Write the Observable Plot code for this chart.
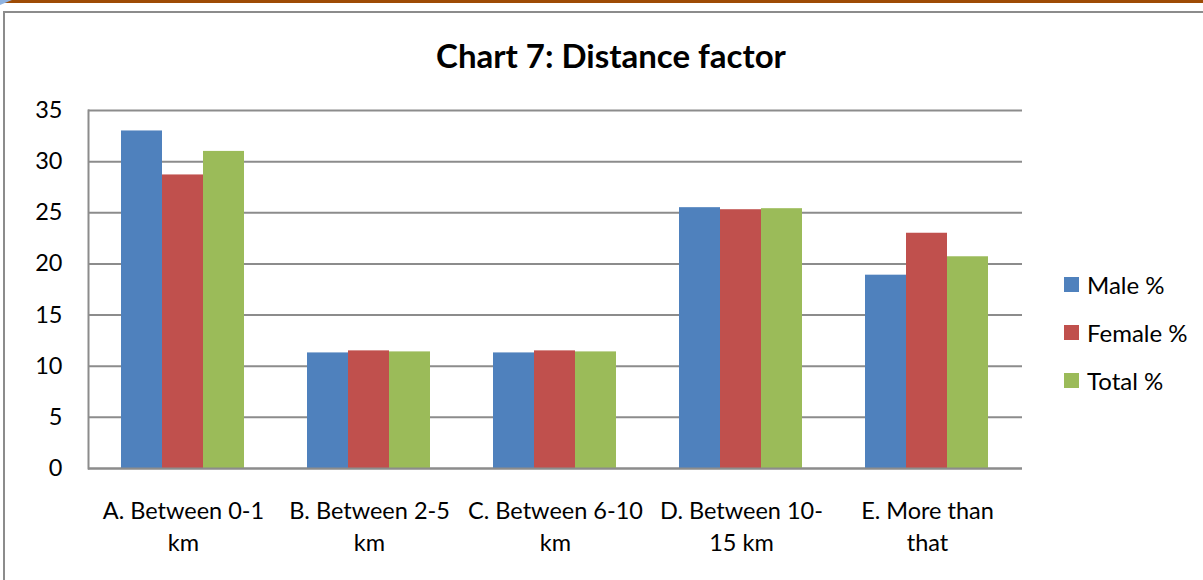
<!DOCTYPE html>
<html><head><meta charset="utf-8">
<script src="https://cdn.jsdelivr.net/npm/d3@7"></script>
<script src="https://cdn.jsdelivr.net/npm/@observablehq/plot@0.6"></script>
<style>
body{margin:0;background:#fff;font-family:Lato,"Open Sans",sans-serif;}
#wrap{position:relative;width:1203px;height:580px;overflow:hidden;background:#fff;}
.topbar{position:absolute;left:0;top:0;width:1203px;height:3px;background:#9E4B05;}
.corner{position:absolute;left:0;top:0;width:0;height:0;border-top:5px solid #8fb3e0;border-right:12px solid transparent;}
.border{position:absolute;left:3px;top:11px;width:1220px;height:600px;border:2px solid #8c8c8c;box-sizing:border-box;}
#title{position:absolute;left:0;top:35px;width:1222px;text-align:center;font-weight:bold;font-size:33px;color:#000;}
.layer{position:absolute;left:0;top:0;}
#legend{position:absolute;left:1064px;top:260px;font-size:24px;color:#000;}
.item{display:flex;align-items:center;height:48px;}
.sw{width:15px;height:15px;margin-right:8px;}
</style></head><body>
<div id="wrap">
 <div class="topbar"></div>
 <div class="corner"></div>
 <div class="border"></div>
 <div id="title">Chart 7: Distance factor</div>
 <div id="back" class="layer"></div>
 <div id="bars" class="layer"></div>
 <div id="legend"></div>
</div>
<script>
const categories = ["A. Between 0-1 km", "B. Between 2-5 km", "C. Between 6-10 km", "D. Between 10-15 km", "E. More than that"];
const categoryLabels = ["A. Between 0-1\nkm", "B. Between 2-5\nkm", "C. Between 6-10\nkm", "D. Between 10-\n15 km", "E. More than\nthat"];
const series = ["Male %", "Female %", "Total %"];
const male = [33.0, 11.3, 11.3, 25.5, 18.9];
const female = [28.7, 11.5, 11.5, 25.3, 23.0];
const total = [31.0, 11.4, 11.4, 25.4, 20.7];
const colors = ["#4F81BD", "#C0504D", "#9BBB59"];
const yTicks = [0, 5, 10, 15, 20, 25, 30, 35];

const seriesValues = [male, female, total];
const rows = categories.flatMap((c, i) => series.map((s, j) => ({category: c, series: s, value: seriesValues[j][i]})));

const common = {
  width: 1203, height: 580,
  marginLeft: 88, marginRight: 181, marginTop: 110, marginBottom: 112,
  style: {fontFamily: "Lato, 'Open Sans', sans-serif", fontSize: "23.5px", color: "#000", background: "transparent"}
};
const band = {domain: categories, paddingInner: 0.338, paddingOuter: 0.169};

// background: grid, axes, category labels
const back = Plot.plot({
  ...common,
  x: {...band, axis: null},
  y: {domain: [0, 35], ticks: yTicks, tickSize: 0, tickPadding: 26, label: null},
  marks: [
    Plot.ruleY(yTicks, {stroke: "#8c8c8c", strokeWidth: 2}),
    Plot.frame({anchor: "left", stroke: "#8c8c8c", strokeWidth: 2}),
    Plot.text(categories, {x: d => d, text: (d, i) => categoryLabels[i], frameAnchor: "bottom", lineAnchor: "middle", dy: 56, lineHeight: 1.4, fontSize: 23.5, fill: "#000"})
  ]
});
document.getElementById("back").appendChild(back);

// foreground: grouped bars
const bars = Plot.plot({
  ...common,
  fx: {...band, axis: null},
  x: {domain: series, padding: 0, axis: null},
  y: {domain: [0, 35], axis: null},
  color: {domain: series, range: colors},
  marks: [
    Plot.barY(rows, {fx: "category", x: "series", y: "value", fill: "series"})
  ]
});
document.getElementById("bars").appendChild(bars);

// axis baseline over bars
const base = Plot.plot({
  ...common,
  x: {...band, axis: null},
  y: {domain: [0, 35], axis: null},
  marks: [Plot.ruleY([0], {stroke: "#8c8c8c", strokeWidth: 2})]
});
const baseDiv = document.createElement("div");
baseDiv.className = "layer";
baseDiv.appendChild(base);
document.getElementById("wrap").insertBefore(baseDiv, document.getElementById("legend"));

const legend = document.getElementById("legend");
series.forEach((s, i) => {
  const item = document.createElement("div");
  item.className = "item";
  const sw = document.createElement("div");
  sw.className = "sw";
  sw.style.background = colors[i];
  const label = document.createElement("span");
  label.textContent = s;
  item.appendChild(sw);
  item.appendChild(label);
  legend.appendChild(item);
});
</script>
</body></html>
